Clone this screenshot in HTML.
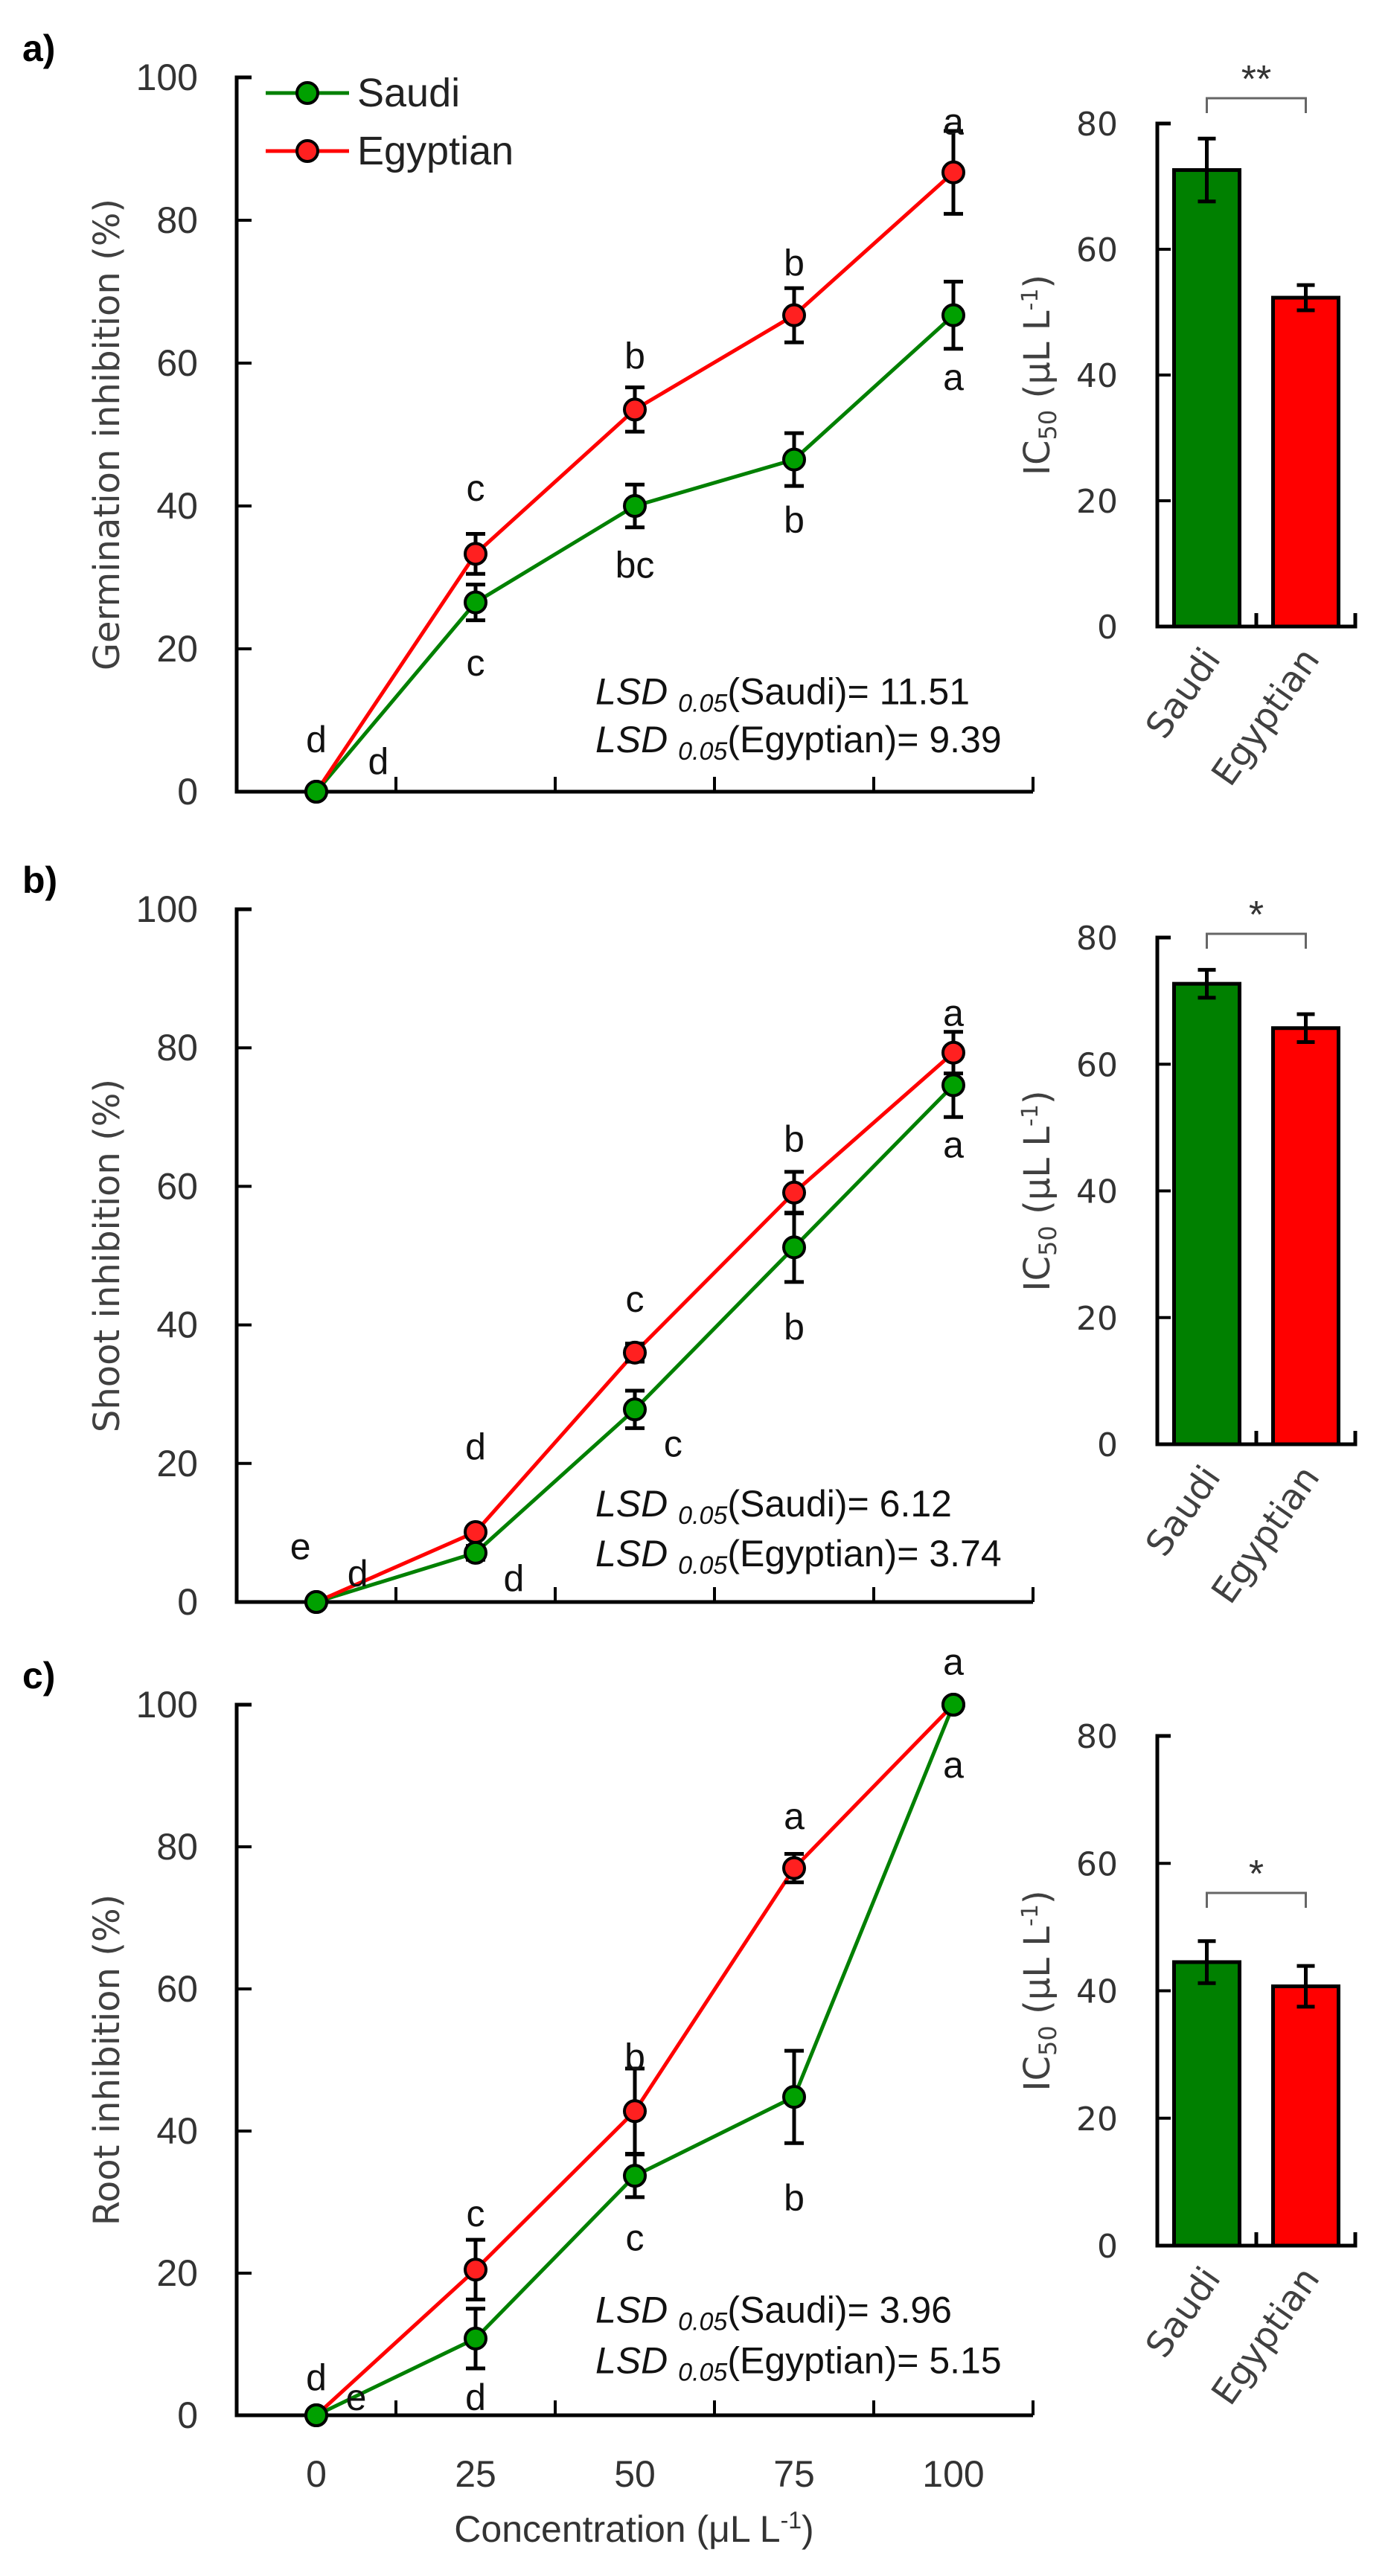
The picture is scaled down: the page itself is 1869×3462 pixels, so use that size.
<!DOCTYPE html>
<html><head><meta charset="utf-8">
<style>
html,body{margin:0;padding:0;background:#fff;}
svg{display:block;}
text{font-family:"Liberation Sans Narrow","Liberation Sans",sans-serif;}
.tick{font-size:50px;fill:#333;}
.btick{font-family:"DejaVu Sans","Liberation Sans",sans-serif;font-size:44px;fill:#333;}
.lab{font-size:50px;fill:#111;}
.ttl{font-family:"DejaVu Sans","Liberation Sans",sans-serif;font-size:48px;fill:#404040;}
</style></head>
<body>
<svg id="fig" xmlns="http://www.w3.org/2000/svg" width="1869" height="3462" viewBox="0 0 1869 3462"></svg>
<script>
// ---- data ----
const concentrations = ["0","25","50","75","100"];
const yTicksLine = [0,20,40,60,80,100];
const yTicksBar = [0,20,40,60,80];
const origins = ["Saudi","Egyptian"];

const germSaudi = [0,26.5,40,46.5,66.7];
const germSaudiErr = [0,2.5,3,3.7,4.7];
const germEgypt = [0,33.3,53.5,66.7,86.7];
const germEgyptErr = [0,2.8,3.1,3.8,5.8];
const germIC50 = [72.6,52.3];
const germIC50Err = [5,2];

const shootSaudi = [0,7.1,27.8,51.2,74.6];
const shootSaudiErr = [0,1,2.7,5,4.6];
const shootEgypt = [0,10.1,36,59.1,79.3];
const shootEgyptErr = [0,0.5,1.3,3,3];
const shootIC50 = [72.7,65.7];
const shootIC50Err = [2.2,2.2];

const rootSaudi = [0,10.8,33.7,44.8,100];
const rootSaudiErr = [0,4.2,3,6.5,0];
const rootEgypt = [0,20.5,42.8,77,100];
const rootEgyptErr = [0,4.2,6,2,0];
const rootIC50 = [44.5,40.7];
const rootIC50Err = [3.3,3.2];

// letters: [category position, value-level, text]
const germLetters = [[0,7.3,"d"],[0.39,4.2,"d"],[1,42.5,"c"],[1,18,"c"],[2,61,"b"],[2,31.7,"bc"],[3,74,"b"],[3,38,"b"],[4,93.8,"a"],[4,58,"a"]];
const shootLetters = [[-0.1,8,"e"],[0.26,4.1,"d"],[1,22.4,"d"],[1.24,3.4,"d"],[2,43.7,"c"],[2.24,22.8,"c"],[3,66.8,"b"],[3,39.7,"b"],[4,85,"a"],[4,66,"a"]];
const rootLetters = [[0,5.3,"d"],[0.25,2.5,"e"],[1,28.4,"c"],[1,2.5,"d"],[2,50.4,"b"],[2,25,"c"],[3,84.3,"a"],[3,30.6,"b"],[4,106,"a"],[4,91.5,"a"]];
const lsdGerm = ["11.51","9.39"];
const lsdShoot = ["6.12","3.74"];
const lsdRoot = ["3.96","5.15"];

const NS="http://www.w3.org/2000/svg";
const svg=document.getElementById('fig');
function el(tag,attrs,parent,txt){const e=document.createElementNS(NS,tag);for(const k in attrs)e.setAttribute(k,attrs[k]);if(txt!==undefined)e.textContent=txt;(parent||svg).appendChild(e);return e;}

const GREEN="#008000", RED="#ff0000", GREENM="#00a000", REDM="#ff2020";

function panel(cfg){
  const g=el('g',{});
  
  
  const X0=318, XW=214;
  const xs=i=>X0+XW*(i+0.5);
  const ys=v=>cfg.y0-(cfg.y0-cfg.y100)*v/100;
  const pl=el('text',{x:30,y:cfg.y100-22,'font-size':50,'font-weight':'bold',fill:'#000','font-family':'Liberation Sans, sans-serif'},g,cfg.label);
  
  
  const ax=el('path',{d:`M${X0+20},${cfg.y100} H${X0} V${cfg.y0} H${X0+5*XW}`,fill:'none',stroke:'#000','stroke-width':5},g);
  
  
  yTicksLine.forEach(t=>{
    const y=ys(t);
    el('line',{x1:X0,x2:X0+20,y1:y,y2:y,stroke:'#000','stroke-width':4},g);
    const tl=el('text',{x:266,y:y+17,'text-anchor':'end',class:'tick'},g,String(t));
    
    
  });
  for(let i=1;i<=5;i++){el('line',{x1:X0+XW*i,x2:X0+XW*i,y1:cfg.y0,y2:cfg.y0-20,stroke:'#000','stroke-width':4},g);}
  if(cfg.showX){
    concentrations.forEach((c,i)=>{
      const t=el('text',{x:xs(i),y:cfg.y0+96,'text-anchor':'middle',class:'tick'},g,c);
      
      
    });
    const xt=el('text',{x:852,y:cfg.y0+170,'text-anchor':'middle',class:'tick'},g);
    
    
    xt.innerHTML='Concentration (μL L<tspan dy="-18" font-size="32">-1</tspan><tspan dy="18">)</tspan>';
  }
  const yc=(cfg.y0+cfg.y100)/2;
  const yt=el('text',{x:0,y:0,transform:`translate(160,${yc}) rotate(-90)`,'text-anchor':'middle',class:'ttl'},g,cfg.ytitle);
  
  
  const series=[[cfg.saudi,cfg.saudiErr,GREEN,GREENM,'saudi'],[cfg.egypt,cfg.egyptErr,RED,REDM,'egyptian']];
  series.forEach(s=>{
    const pts=s[0].map((v,i)=>xs(i)+','+ys(v)).join(' ');
    const pl=el('polyline',{points:pts,fill:'none',stroke:s[2],'stroke-width':5},g);
    
    
  });
  series.forEach(s=>{
    s[0].forEach((v,i)=>{
      const e=s[1][i];
      if(e>0){
        const x=xs(i),a=ys(v+e),b=ys(v-e);
        const eb=el('path',{d:`M${x},${a}V${b}M${x-13},${a}H${x+13}M${x-13},${b}H${x+13}`,stroke:'#000','stroke-width':5,fill:'none'},g);
        
        
      }
    });
  });
  series.slice().reverse().forEach(s=>{
    s[0].forEach((v,i)=>{
      const c=el('circle',{cx:xs(i),cy:ys(v),r:14,fill:s[3],stroke:'#000','stroke-width':4},g);
      
      
    });
  });
  cfg.letters.forEach(L=>{
    const t=el('text',{x:xs(L[0]),y:ys(L[1])+17,'text-anchor':'middle',class:'lab'},g,L[2]);
    
    
  });
  [["Saudi",cfg.lsd[0],cfg.lsdY[0]],["Egyptian",cfg.lsd[1],cfg.lsdY[1]]].forEach(r=>{
    const t=el('text',{x:800,y:ys(r[2])+17,class:'lab'},g);
    
    
    t.innerHTML=`<tspan font-style="italic">LSD </tspan><tspan font-style="italic" font-size="34" dy="10">0.05</tspan><tspan dy="-10">(${r[0]})= ${r[1]}</tspan>`;
  });
  const BX=1555, BW=133;
  const bys=v=>cfg.b0-(cfg.b0-cfg.b80)*v/80;
  const bax=el('path',{d:`M${BX+18},${cfg.b80} H${BX} V${cfg.b0} H${BX+2*BW} V${cfg.b0-18} M${BX+BW},${cfg.b0} V${cfg.b0-18}`,fill:'none',stroke:'#000','stroke-width':5},g);
  
  
  yTicksBar.forEach(t=>{
    const y=bys(t);
    el('line',{x1:BX,x2:BX+18,y1:y,y2:y,stroke:'#000','stroke-width':4},g);
    const tl=el('text',{x:1502,y:y+16,'text-anchor':'end',class:'btick'},g,String(t));
    
    
  });
  const cols=[GREEN,RED];
  cfg.ic50.forEach((v,i)=>{
    const cx=BX+BW*(i+0.5);
    const r=el('rect',{x:cx-44,y:bys(v),width:88,height:cfg.b0-bys(v),fill:cols[i],stroke:'#000','stroke-width':5},g);
    
    
    const e=cfg.ic50Err[i],a=bys(v+e),b=bys(v-e);
    const eb=el('path',{d:`M${cx},${a}V${b}M${cx-12},${a}H${cx+12}M${cx-12},${b}H${cx+12}`,stroke:'#000','stroke-width':5,fill:'none'},g);
    
    
    const lt=el('text',{x:0,y:0,transform:`translate(${cx+20},${cfg.b0+44}) rotate(-55)`,'text-anchor':'end',class:'ttl','font-size':50},g,origins[i]);
    
    
  });
  const x1=BX+BW*0.5, x2=BX+BW*1.5;
  const br=el('path',{d:`M${x1},${cfg.brY+20}V${cfg.brY}H${x2}V${cfg.brY+20}`,fill:'none',stroke:'#666','stroke-width':3},g);
  
  
  const st=el('text',{x:(x1+x2)/2,y:cfg.brY-8,'text-anchor':'middle','font-size':52,fill:'#333','font-family':'Liberation Sans, sans-serif'},g,cfg.stars);
  
  
  const bt=el('text',{x:0,y:0,transform:`translate(1410,${(cfg.b0+cfg.b80)/2}) rotate(-90)`,'text-anchor':'middle',class:'ttl'},g);
  
  
  bt.innerHTML='IC<tspan font-size="32" dy="9">50</tspan><tspan dy="-9"> (μL L</tspan><tspan font-size="30" dy="-16">-1</tspan><tspan dy="16">)</tspan>';
  return g;
}

panel({name:'panel-a-germination',label:'a)',y0:1064,y100:104,ytitle:'Germination inhibition (%)',saudi:germSaudi,saudiErr:germSaudiErr,egypt:germEgypt,egyptErr:germEgyptErr,letters:germLetters,lsd:lsdGerm,lsdY:[14,7.3],b0:842,b80:166,ic50:germIC50,ic50Err:germIC50Err,brY:132,stars:'**',showX:false});
panel({name:'panel-b-shoot',label:'b)',y0:2153,y100:1222,ytitle:'Shoot inhibition (%)',saudi:shootSaudi,saudiErr:shootSaudiErr,egypt:shootEgypt,egyptErr:shootEgyptErr,letters:shootLetters,lsd:lsdShoot,lsdY:[14.2,7],b0:1941,b80:1260,ic50:shootIC50,ic50Err:shootIC50Err,brY:1255,stars:'*',showX:false});
panel({name:'panel-c-root',label:'c)',y0:3246,y100:2291,ytitle:'Root inhibition (%)',saudi:rootSaudi,saudiErr:rootSaudiErr,egypt:rootEgypt,egyptErr:rootEgyptErr,letters:rootLetters,lsd:lsdRoot,lsdY:[14.8,7.7],b0:3018,b80:2333,ic50:rootIC50,ic50Err:rootIC50Err,brY:2544,stars:'*',showX:true});

const lg=el('g',{});


[[origins[0],GREEN,GREENM,125],[origins[1],RED,REDM,203]].forEach(L=>{
  el('line',{x1:357,x2:469,y1:L[3],y2:L[3],stroke:L[1],'stroke-width':5},lg);
  const c=el('circle',{cx:413,cy:L[3],r:14,fill:L[2],stroke:'#000','stroke-width':4},lg);
  
  
  const t=el('text',{x:480,y:L[3]+18,'font-size':54,fill:'#222'},lg,L[0]);
  
  
});
</script>
</body></html>
